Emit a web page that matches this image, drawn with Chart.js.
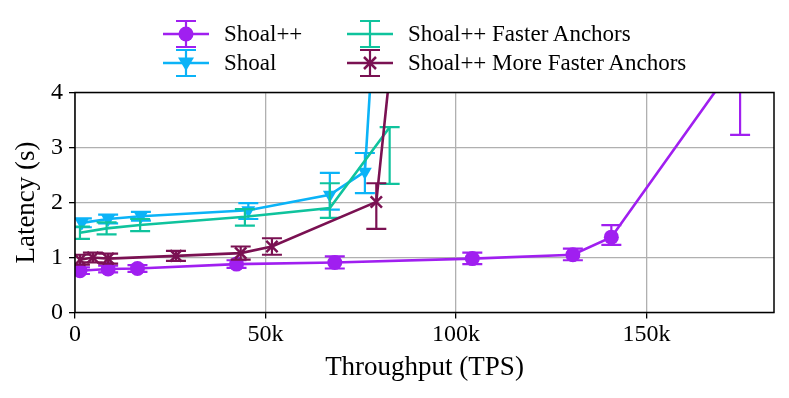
<!DOCTYPE html>
<html>
<head>
<meta charset="utf-8">
<script src="https://cdn.jsdelivr.net/npm/chart.js@4.4.1/dist/chart.umd.min.js"></script>
<style>
  html, body { margin: 0; padding: 0; background: #fff; }
  #wrap { position: relative; width: 789px; height: 398px; }
  #legend { position: absolute; left: 0; top: 0; font-family: "Liberation Serif", serif; font-size: 23px; color: #000; }
  .item { position: absolute; display: flex; align-items: center; height: 30px; white-space: nowrap; }
  .item canvas { margin-right: 15px; }
</style>
</head>
<body>
<div id="wrap">
  <canvas id="latency" width="789" height="398"></canvas>
  <div id="legend"></div>
</div>
<script>
// throughput (TPS) / latency (s), mean + error range per point

const shoalPPX  = [1300, 8700, 16400, 42400, 68200, 104300, 130700, 140800, 174600];
const shoalPPY  = [0.76, 0.79, 0.80, 0.88, 0.91, 0.98, 1.05, 1.37, 4.65];
const shoalPPLo = [0.70, 0.73, 0.74, 0.81, 0.80, 0.88, 0.95, 1.23, 3.23];
const shoalPPHi = [0.82, 0.85, 0.86, 0.95, 1.02, 1.09, 1.16, 1.59, 6.07];

const shoalX  = [1800, 8700, 17300, 45500, 66900, 76100, 79000];
const shoalY  = [1.63, 1.70, 1.75, 1.86, 2.14, 2.56, 5.8];
const shoalLo = [1.55, 1.62, 1.67, 1.70, 1.87, 2.17, 5.0];
const shoalHi = [1.71, 1.78, 1.83, 1.99, 2.54, 2.90, 6.6];

const fasterX  = [1300, 8300, 17100, 44600, 66900, 82600];
const fasterY  = [1.45, 1.53, 1.59, 1.74, 1.90, 3.37];
const fasterLo = [1.34, 1.42, 1.48, 1.58, 1.72, 2.34];
const fasterHi = [1.56, 1.64, 1.70, 1.88, 2.35, 3.37];

const moreX  = [1300, 4700, 8700, 26500, 43500, 51700, 79100, 84500];
const moreY  = [0.96, 1.00, 0.98, 1.03, 1.08, 1.20, 2.01, 5.6];
const moreLo = [0.87, 0.91, 0.89, 0.94, 0.96, 1.05, 1.52, 5.0];
const moreHi = [1.05, 1.09, 1.07, 1.12, 1.20, 1.35, 2.35, 6.2];

const xTicks = [0, 50000, 100000, 150000];
const yTicks = [0, 1, 2, 3, 4];

const FONT = "Liberation Serif";

/* ---------- helpers ---------- */
function pts(xs, ys) {
  return xs.map((x, i) => ({ x: x, y: ys[i] }));
}

function drawMarker(ctx, style, x, y, r, color) {
  ctx.save();
  ctx.fillStyle = color;
  ctx.strokeStyle = color;
  ctx.lineWidth = 2.5;
  ctx.beginPath();
  if (style === "circle") {
    ctx.arc(x, y, r, 0, Math.PI * 2);
    ctx.fill();
  } else if (style === "triangle") {
    ctx.moveTo(x - r, y - r * 0.7);
    ctx.lineTo(x + r, y - r * 0.7);
    ctx.lineTo(x, y + r);
    ctx.closePath();
    ctx.fill();
  } else if (style === "crossRot") {
    const d = r * 0.75;
    ctx.moveTo(x - d, y - d); ctx.lineTo(x + d, y + d);
    ctx.moveTo(x - d, y + d); ctx.lineTo(x + d, y - d);
    ctx.stroke();
  }
  ctx.restore();
}

/* ---------- error bars (drawn under each dataset's line) ---------- */
const errorBarPlugin = {
  id: "errorBars",
  beforeDatasetDraw(chart, args) {
    const ds = chart.data.datasets[args.index];
    if (!ds.errLo) return;
    const ctx = chart.ctx;
    const xs = chart.scales.x;
    const ys = chart.scales.y;
    const a = chart.chartArea;
    ctx.save();
    ctx.beginPath();
    ctx.rect(a.left, a.top, a.right - a.left, a.bottom - a.top);
    ctx.clip();
    ctx.strokeStyle = ds.borderColor;
    ctx.lineWidth = 2.2;
    ds.data.forEach((p, i) => {
      const px = xs.getPixelForValue(p.x);
      const y1 = ys.getPixelForValue(ds.errLo[i]);
      const y2 = ys.getPixelForValue(ds.errHi[i]);
      ctx.beginPath();
      ctx.moveTo(px, y1); ctx.lineTo(px, y2);
      ctx.moveTo(px - 10, y1); ctx.lineTo(px + 10, y1);
      ctx.moveTo(px - 10, y2); ctx.lineTo(px + 10, y2);
      ctx.stroke();
    });
    ctx.restore();
  }
};

/* ---------- axes frame ---------- */
const framePlugin = {
  id: "frame",
  afterDraw(chart) {
    const a = chart.chartArea;
    const ctx = chart.ctx;
    ctx.save();
    ctx.strokeStyle = "#000";
    ctx.lineWidth = 1.5;
    ctx.strokeRect(a.left, a.top, a.right - a.left, a.bottom - a.top);
    ctx.restore();
  }
};

/* ---------- series ---------- */
const series = [
  { label: "Shoal++", x: shoalPPX, y: shoalPPY, lo: shoalPPLo, hi: shoalPPHi,
    color: "#a01ff0", marker: "circle", radius: 7.5, order: 4 },
  { label: "Shoal", x: shoalX, y: shoalY, lo: shoalLo, hi: shoalHi,
    color: "#0bb3f7", marker: "triangle", radius: 8, order: 3 },
  { label: "Shoal++ Faster Anchors", x: fasterX, y: fasterY, lo: fasterLo, hi: fasterHi,
    color: "#0fc39d", marker: null, radius: 0, order: 2 },
  { label: "Shoal++ More Faster Anchors", x: moreX, y: moreY, lo: moreLo, hi: moreHi,
    color: "#7a1152", marker: "crossRot", radius: 8, order: 1 }
];

const datasets = series.map(s => ({
  label: s.label,
  data: pts(s.x, s.y),
  errLo: s.lo,
  errHi: s.hi,
  borderColor: s.color,
  backgroundColor: s.color,
  borderWidth: 2.6,
  pointStyle: s.marker === "triangle" ? "triangle" : (s.marker || "circle"),
  rotation: s.marker === "triangle" ? 180 : 0,
  pointRadius: s.radius,
  pointBorderWidth: s.marker === "crossRot" ? 2.5 : 0,
  pointHoverRadius: s.radius,
  tension: 0,
  clip: 0,
  order: s.order
}));

new Chart(document.getElementById("latency"), {
  type: "scatter",
  data: { datasets: datasets },
  options: {
    responsive: false,
    animation: false,
    showLine: true,
    layout: { padding: { top: 92.5, right: 15, left: 0, bottom: 0 } },
    plugins: { legend: { display: false }, tooltip: { enabled: false } },
    scales: {
      x: {
        type: "linear",
        min: 0,
        max: 183500,
        afterFit: s => { s.height = 85.5; },
        afterBuildTicks: s => { s.ticks = xTicks.map(v => ({ value: v })); },
        ticks: {
          color: "#000",
          padding: 2,
          font: { family: FONT, size: 24 },
          maxRotation: 0,
          callback: v => v === 0 ? "0" : (v / 1000) + "k"
        },
        grid: { color: "#b0b0b0", lineWidth: 1.3, tickColor: "#000", tickLength: 6 },
        border: { display: false },
        title: {
          display: true,
          text: "Throughput (TPS)",
          color: "#000",
          font: { family: FONT, size: 27 },
          padding: { top: 0, bottom: 14 }
        }
      },
      y: {
        type: "linear",
        min: 0,
        max: 4,
        afterFit: s => { s.width = 75; },
        afterBuildTicks: s => { s.ticks = yTicks.map(v => ({ value: v })); },
        ticks: {
          color: "#000",
          padding: 6,
          font: { family: FONT, size: 24 }
        },
        grid: { color: "#b0b0b0", lineWidth: 1.3, tickColor: "#000", tickLength: 6 },
        border: { display: false },
        title: {
          display: true,
          text: "Latency (s)",
          color: "#000",
          font: { family: FONT, size: 27 },
          padding: { top: 11, bottom: 0 }
        }
      }
    }
  },
  plugins: [errorBarPlugin, framePlugin]
});

/* ---------- legend (2 columns, matplotlib style) ---------- */
const legendPos = [
  { left: 163, top: 19 },
  { left: 163, top: 48 },
  { left: 347, top: 19 },
  { left: 347, top: 48 }
];
const legendBox = document.getElementById("legend");
series.forEach((s, i) => {
  const item = document.createElement("div");
  item.className = "item";
  item.style.left = legendPos[i].left + "px";
  item.style.top = legendPos[i].top + "px";
  const cv = document.createElement("canvas");
  cv.width = 46;
  cv.height = 30;
  const ctx = cv.getContext("2d");
  ctx.strokeStyle = s.color;
  ctx.lineWidth = 2.6;
  ctx.beginPath();
  ctx.moveTo(0, 15); ctx.lineTo(46, 15);
  ctx.stroke();
  ctx.lineWidth = 2.2;
  ctx.beginPath();
  ctx.moveTo(23, 2); ctx.lineTo(23, 28);
  ctx.moveTo(13, 2); ctx.lineTo(33, 2);
  ctx.moveTo(13, 28); ctx.lineTo(33, 28);
  ctx.stroke();
  if (s.marker) drawMarker(ctx, s.marker, 23, 15, s.marker === "circle" ? 7.5 : 8, s.color);
  const label = document.createElement("span");
  label.textContent = s.label;
  item.appendChild(cv);
  item.appendChild(label);
  legendBox.appendChild(item);
});
</script>
</body>
</html>
